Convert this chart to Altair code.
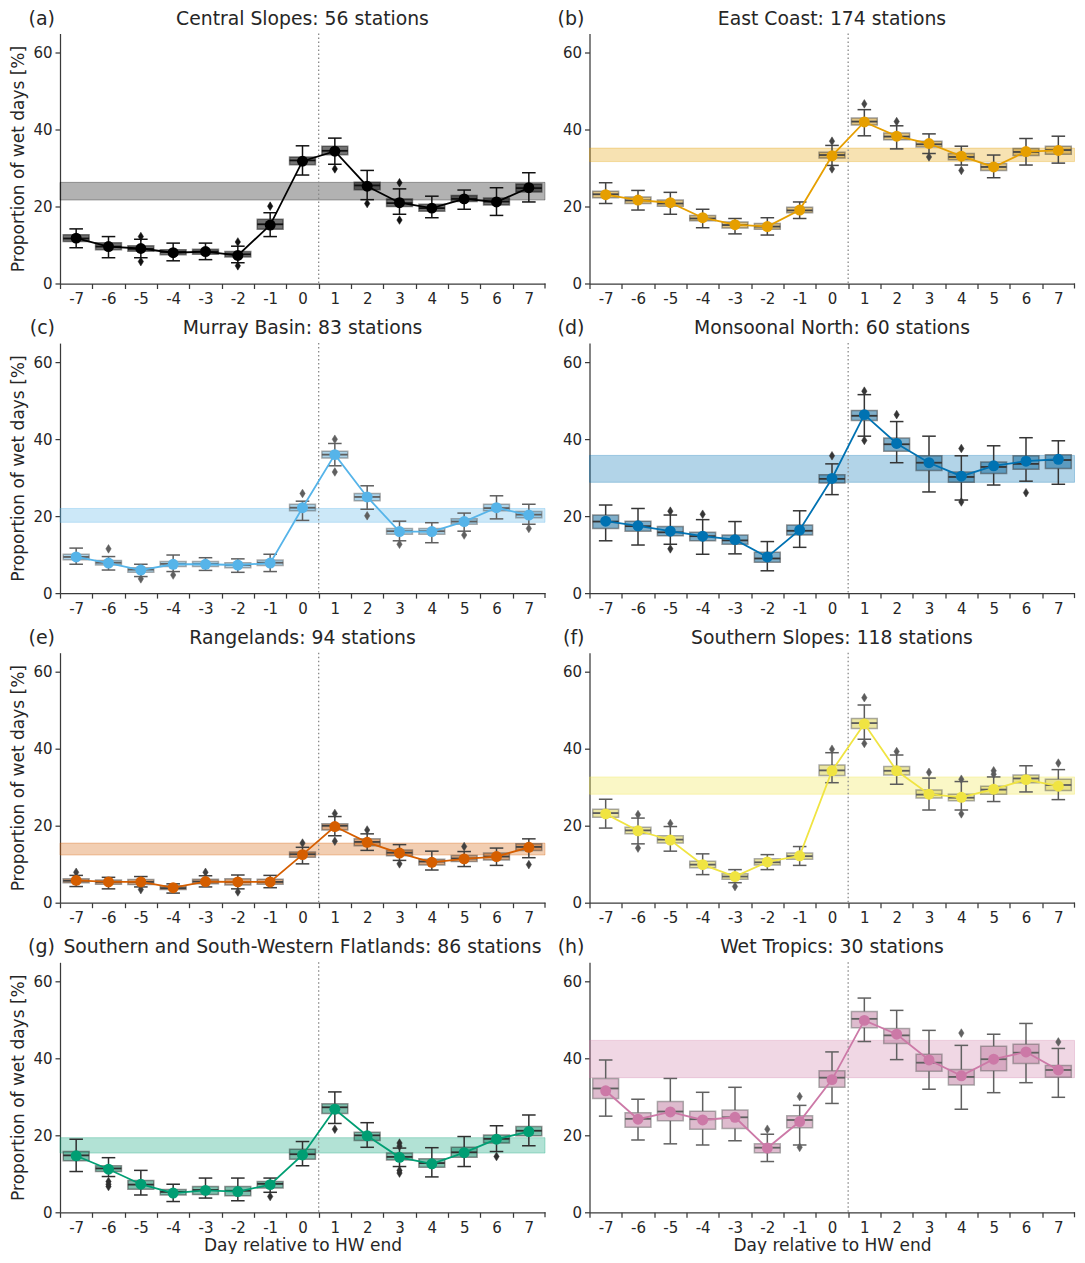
import altair as alt
import pandas as pd

DAYS = list(range(-7, 8))

TITLES = [
    "Central Slopes: 56 stations",
    "East Coast: 174 stations",
    "Murray Basin: 83 stations",
    "Monsoonal North: 60 stations",
    "Rangelands: 94 stations",
    "Southern Slopes: 118 stations",
    "Southern and South-Western Flatlands: 86 stations",
    "Wet Tropics: 30 stations",
]
LETTERS = ["(a)", "(b)", "(c)", "(d)", "(e)", "(f)", "(g)", "(h)"]
COLORS = ["#000000", "#E69F00", "#56B4E9", "#0072B2", "#D55E00", "#F0E442", "#009E73", "#CC79A7"]
BOX_FILLS = ["#000000", "#C9941D", "#68AFD7", "#166C9C", "#BA611B", "#DAD158", "#148A6A", "#C284A6"]
GRAYS = ["#111111", "#454545", "#5f5f5f", "#353535", "#404040", "#5c5c5c", "#2f2f2f", "#616161"]

# (a) Central Slopes
CS_MEAN = [11.8, 9.6, 9.1, 8.0, 8.3, 7.3, 15.2, 31.8, 34.4, 25.3, 21.0, 19.6, 22.0, 21.2, 24.9]
CS_MED = [11.7, 9.6, 9.0, 8.2, 8.3, 7.6, 15.4, 32.0, 34.5, 25.5, 20.9, 19.6, 22.0, 21.3, 24.8]
CS_Q1 = [10.9, 8.8, 8.4, 7.5, 7.6, 6.9, 14.1, 30.9, 33.5, 24.4, 20.0, 18.8, 21.3, 20.4, 23.8]
CS_Q3 = [12.7, 10.6, 9.8, 8.8, 8.9, 8.3, 16.7, 32.9, 35.7, 26.3, 22.0, 20.6, 22.9, 22.2, 25.9]
CS_LO = [9.3, 6.7, 6.7, 5.9, 6.2, 5.4, 12.2, 28.2, 31.0, 21.8, 18.0, 17.1, 19.3, 17.7, 21.2]
CS_HI = [14.2, 12.2, 11.5, 10.5, 10.5, 9.7, 18.4, 35.8, 37.8, 29.4, 24.6, 22.7, 24.3, 24.9, 28.8]
CS_OUT_DAY = [-5, -5, -2, -2, -1, 1, 2, 3, 3]
CS_OUT_VAL = [12.2, 5.7, 10.8, 4.6, 20.1, 29.8, 20.8, 26.2, 16.5]
CS_BAND = [21.7, 26.3]

# (b) East Coast
EC_MEAN = [23.1, 21.7, 21.0, 17.1, 15.3, 14.8, 19.1, 33.2, 42.0, 38.3, 36.4, 33.1, 30.3, 34.3, 34.6]
EC_MED = [23.2, 21.6, 20.8, 16.9, 15.2, 14.8, 19.0, 33.4, 42.1, 38.2, 36.2, 32.9, 30.3, 34.2, 34.7]
EC_Q1 = [22.3, 20.8, 20.1, 16.3, 14.4, 14.1, 18.4, 32.6, 41.2, 37.4, 35.5, 32.2, 29.4, 33.3, 33.6]
EC_Q3 = [24.0, 22.5, 21.7, 17.7, 16.0, 15.6, 19.8, 34.1, 43.0, 39.1, 37.0, 33.8, 31.2, 35.1, 35.7]
EC_LO = [20.8, 19.1, 18.0, 14.5, 12.9, 12.6, 16.9, 30.7, 38.4, 35.0, 33.8, 30.8, 27.5, 30.8, 31.3]
EC_HI = [26.2, 24.2, 23.7, 19.3, 16.9, 17.1, 21.2, 35.9, 45.2, 41.0, 38.9, 35.7, 33.4, 37.7, 38.3]
EC_OUT_DAY = [0, 0, 1, 2, 3, 4]
EC_OUT_VAL = [37.0, 29.8, 46.7, 42.1, 32.9, 29.4]
EC_BAND = [31.7, 35.2]

# (c) Murray Basin
MB_MEAN = [9.4, 7.8, 6.0, 7.5, 7.5, 7.3, 7.8, 22.2, 36.0, 25.0, 16.0, 16.0, 18.6, 22.2, 20.3]
MB_MED = [9.4, 7.9, 6.1, 7.6, 7.6, 7.3, 7.9, 22.2, 36.0, 25.0, 16.1, 16.1, 18.6, 22.1, 20.4]
MB_Q1 = [8.7, 7.3, 5.4, 6.9, 6.9, 6.6, 7.2, 21.4, 35.1, 24.0, 15.3, 15.3, 17.9, 21.4, 19.6]
MB_Q3 = [10.1, 8.5, 6.6, 8.2, 8.2, 7.9, 8.6, 23.1, 36.9, 25.9, 16.8, 16.8, 19.3, 23.1, 21.2]
MB_LO = [7.5, 6.0, 4.3, 5.6, 5.9, 5.4, 5.6, 18.9, 33.1, 21.8, 13.6, 13.1, 16.1, 19.3, 17.9]
MB_HI = [11.7, 9.5, 7.5, 9.9, 9.2, 8.9, 10.1, 23.9, 38.9, 27.9, 18.7, 18.3, 20.8, 25.3, 23.1]
MB_OUT_DAY = [-6, -5, -4, 0, 1, 1, 2, 3, 5, 7]
MB_OUT_VAL = [11.5, 3.7, 4.7, 25.9, 40.0, 31.5, 20.1, 12.7, 15.1, 16.8]
MB_BAND = [18.4, 22.0]

# (d) Monsoonal North
MN_MEAN = [18.7, 17.5, 16.1, 14.8, 13.9, 9.4, 16.4, 29.8, 46.4, 38.9, 33.9, 30.4, 33.1, 34.3, 34.8]
MN_MED = [18.6, 17.4, 15.8, 14.8, 13.7, 9.0, 16.2, 29.7, 46.1, 38.7, 33.9, 30.2, 32.8, 33.6, 34.6]
MN_Q1 = [16.8, 16.1, 14.9, 13.6, 12.7, 8.0, 15.1, 28.6, 44.9, 36.9, 31.9, 28.8, 31.1, 32.2, 32.4]
MN_Q3 = [20.3, 18.7, 17.3, 15.8, 15.1, 10.6, 17.7, 30.8, 47.5, 40.3, 35.7, 31.5, 34.1, 35.7, 36.0]
MN_LO = [13.6, 12.5, 12.7, 10.1, 10.2, 5.8, 11.9, 25.6, 40.8, 33.9, 26.3, 24.2, 28.1, 29.1, 28.3]
MN_HI = [22.9, 22.0, 20.3, 19.1, 18.6, 13.4, 21.4, 33.6, 51.6, 44.6, 40.8, 35.7, 38.3, 40.4, 39.6]
MN_OUT_DAY = [-5, -5, -4, 0, 1, 1, 2, 4, 4, 6]
MN_OUT_VAL = [21.3, 11.5, 20.5, 35.7, 52.5, 39.7, 46.4, 37.6, 23.7, 26.1]
MN_BAND = [28.8, 35.8]

# (e) Rangelands
RL_MEAN = [5.8, 5.4, 5.4, 3.9, 5.5, 5.4, 5.4, 12.5, 19.8, 15.7, 12.9, 10.5, 11.4, 12.0, 14.4]
RL_MED = [5.7, 5.4, 5.4, 3.8, 5.5, 5.4, 5.4, 12.6, 20.0, 15.8, 13.0, 10.7, 11.5, 12.0, 14.5]
RL_Q1 = [5.2, 4.8, 4.7, 3.4, 4.9, 4.6, 4.8, 11.8, 18.9, 14.8, 12.2, 9.8, 10.7, 11.1, 13.6]
RL_Q3 = [6.2, 5.9, 6.0, 4.4, 6.1, 6.2, 6.1, 13.2, 20.5, 16.6, 13.7, 11.3, 12.3, 12.9, 15.3]
RL_LO = [4.2, 3.6, 4.1, 2.5, 4.1, 3.6, 3.9, 10.1, 17.4, 13.6, 11.0, 8.5, 9.4, 9.7, 11.7]
RL_HI = [7.1, 6.6, 6.8, 4.9, 7.0, 7.2, 7.1, 14.4, 22.4, 17.9, 15.1, 13.4, 13.3, 14.2, 16.6]
RL_OUT_DAY = [-7, -5, -3, -2, 0, 1, 1, 2, 3, 5, 7]
RL_OUT_VAL = [7.9, 3.4, 7.9, 2.8, 15.5, 23.2, 16.0, 18.9, 10.1, 14.6, 9.9]
RL_BAND = [12.4, 15.5]

# (f) Southern Slopes
SS_MEAN = [23.1, 18.7, 16.3, 9.9, 6.8, 10.6, 12.2, 34.3, 46.5, 34.3, 28.2, 27.4, 29.5, 32.0, 30.3]
SS_MED = [23.3, 18.8, 16.4, 9.9, 6.8, 10.5, 12.1, 34.4, 46.7, 34.3, 28.1, 27.3, 29.4, 32.3, 30.6]
SS_Q1 = [22.2, 17.9, 15.5, 9.1, 6.1, 9.8, 11.3, 33.1, 45.3, 33.2, 27.2, 26.5, 28.2, 31.2, 29.2]
SS_Q3 = [24.3, 19.6, 17.4, 10.8, 7.5, 11.4, 12.9, 35.8, 47.9, 35.4, 29.3, 28.2, 30.3, 33.2, 32.1]
SS_LO = [19.4, 15.3, 13.4, 7.3, 5.2, 8.6, 9.7, 31.2, 42.5, 30.8, 24.1, 24.1, 26.3, 28.8, 26.8]
SS_HI = [26.9, 22.0, 19.8, 12.7, 8.6, 12.5, 14.6, 39.0, 51.4, 38.4, 32.4, 31.5, 32.7, 35.6, 34.6]
SS_OUT_DAY = [-6, -6, -5, -3, 0, 1, 1, 2, 3, 4, 4, 5, 5, 7]
SS_OUT_VAL = [22.9, 14.2, 20.6, 4.2, 39.9, 53.3, 41.4, 39.3, 33.9, 32.1, 23.1, 34.3, 33.4, 36.3]
SS_BAND = [28.2, 32.7]

# (g) Southern and South-Western Flatlands
SF_MEAN = [14.7, 11.2, 7.3, 5.0, 5.7, 5.4, 7.2, 14.9, 26.8, 19.9, 14.3, 12.6, 15.5, 19.0, 21.0]
SF_MED = [14.8, 11.4, 7.2, 5.3, 5.8, 5.6, 7.4, 15.1, 27.3, 20.0, 14.4, 12.8, 15.6, 19.1, 21.2]
SF_Q1 = [13.4, 10.6, 6.0, 4.5, 4.6, 4.3, 6.3, 13.8, 25.7, 18.7, 13.6, 11.7, 14.3, 18.0, 19.9]
SF_Q3 = [15.8, 12.1, 8.3, 5.9, 6.7, 6.7, 8.0, 16.4, 28.2, 20.8, 15.4, 13.9, 16.9, 20.1, 22.3]
SF_LO = [10.6, 9.3, 4.5, 2.8, 3.7, 3.0, 5.2, 12.1, 23.1, 16.9, 11.9, 9.2, 11.9, 15.8, 17.3]
SF_HI = [19.0, 14.2, 10.9, 7.3, 8.9, 8.9, 8.9, 18.4, 31.3, 23.3, 16.7, 16.8, 19.7, 22.5, 25.3]
SF_OUT_DAY = [-6, -6, -6, -1, 1, 3, 3, 3, 3, 6]
SF_OUT_VAL = [8.0, 7.3, 6.7, 4.1, 21.6, 18.0, 17.2, 10.2, 10.9, 14.5]
SF_BAND = [15.4, 19.4]

# (h) Wet Tropics
WT_MEAN = [31.6, 24.2, 26.1, 24.0, 24.7, 16.7, 23.6, 34.5, 49.9, 46.3, 39.6, 35.5, 39.8, 41.7, 37.0]
WT_MED = [32.2, 24.3, 26.2, 24.2, 24.7, 16.8, 24.0, 35.0, 50.3, 46.0, 38.9, 35.2, 39.8, 41.5, 37.0]
WT_Q1 = [29.6, 22.1, 23.8, 21.6, 21.8, 15.5, 22.0, 32.5, 48.0, 43.9, 36.7, 33.1, 36.8, 38.7, 35.1]
WT_Q3 = [34.8, 25.9, 28.8, 26.3, 26.6, 17.8, 25.1, 36.8, 52.2, 47.8, 41.1, 37.1, 43.2, 43.7, 38.2]
WT_LO = [25.0, 18.8, 17.8, 17.5, 18.6, 13.2, 17.5, 28.3, 44.4, 39.7, 32.0, 26.8, 31.1, 33.7, 29.9]
WT_HI = [39.6, 29.4, 34.8, 31.2, 32.5, 20.3, 27.8, 41.7, 55.7, 52.5, 47.3, 43.4, 46.3, 49.1, 42.6]
WT_OUT_DAY = [-2, -1, -1, 4, 7]
WT_OUT_VAL = [21.6, 30.1, 16.9, 46.6, 44.3]
WT_BAND = [35.0, 44.7]

REGION_DATA = [
    (CS_MEAN, CS_MED, CS_Q1, CS_Q3, CS_LO, CS_HI, CS_OUT_DAY, CS_OUT_VAL, CS_BAND),
    (EC_MEAN, EC_MED, EC_Q1, EC_Q3, EC_LO, EC_HI, EC_OUT_DAY, EC_OUT_VAL, EC_BAND),
    (MB_MEAN, MB_MED, MB_Q1, MB_Q3, MB_LO, MB_HI, MB_OUT_DAY, MB_OUT_VAL, MB_BAND),
    (MN_MEAN, MN_MED, MN_Q1, MN_Q3, MN_LO, MN_HI, MN_OUT_DAY, MN_OUT_VAL, MN_BAND),
    (RL_MEAN, RL_MED, RL_Q1, RL_Q3, RL_LO, RL_HI, RL_OUT_DAY, RL_OUT_VAL, RL_BAND),
    (SS_MEAN, SS_MED, SS_Q1, SS_Q3, SS_LO, SS_HI, SS_OUT_DAY, SS_OUT_VAL, SS_BAND),
    (SF_MEAN, SF_MED, SF_Q1, SF_Q3, SF_LO, SF_HI, SF_OUT_DAY, SF_OUT_VAL, SF_BAND),
    (WT_MEAN, WT_MED, WT_Q1, WT_Q3, WT_LO, WT_HI, WT_OUT_DAY, WT_OUT_VAL, WT_BAND),
]

Y_TITLE = "Proportion of wet days [%]"
X_TITLE = "Day relative to HW end"
Y_TICKS = [0, 20, 40, 60]
X_DOMAIN = [-7.5, 7.5]
Y_DOMAIN = [0, 65]

FONT = "DejaVu Sans"
TEXT = "#262626"
AXIS_C = "#3a3a3a"
W, H = 485, 250
DIAMOND = "M0,-1L0.62,0L0,1L-0.62,0Z"


def make_panel(i, left, bottom):
    mean, med, q1, q3, lo, hi, od, ov, band = REGION_DATA[i]
    color, fillc, gray = COLORS[i], BOX_FILLS[i], GRAYS[i]
    df = pd.DataFrame({"day": DAYS, "mean": mean, "med": med, "q1": q1,
                       "q3": q3, "lo": lo, "hi": hi})
    xs = alt.Scale(domain=X_DOMAIN, nice=False, zero=False)
    ys = alt.Scale(domain=Y_DOMAIN, nice=False)
    # ticks sit on category boundaries, labels are shifted to the category centres
    tick_pos = [d - 0.5 for d in DAYS]
    xaxis = alt.Axis(values=tick_pos,
                     labelExpr="'' + (datum.value + 0.5)",
                     labelOffset=W / 30.0, labelFlush=False, labelOverlap=False,
                     grid=False, tickSize=5, labelPadding=3, titlePadding=2,
                     title=X_TITLE if bottom else None)
    yaxis = alt.Axis(values=Y_TICKS, grid=False, tickSize=5, labelPadding=3,
                     titlePadding=5, title=Y_TITLE if left else None)

    def X(f):
        return alt.X(f, type="quantitative", scale=xs, axis=xaxis)

    def Y(f):
        return alt.Y(f, type="quantitative", scale=ys, axis=yaxis)

    band_df = pd.DataFrame({"lo": [band[0]], "hi": [band[1]],
                            "xa": [X_DOMAIN[0]], "xb": [X_DOMAIN[1]]})
    band_l = alt.Chart(band_df).mark_rect(
        fill=color, fillOpacity=0.3, stroke=color, strokeOpacity=0.3, strokeWidth=1.0
    ).encode(x=X("xa"), x2="xb", y=Y("lo"), y2="hi")

    vline = alt.Chart(pd.DataFrame({"x": [0.5]})).mark_rule(
        color="#8a8a8a", strokeDash=[1.5, 2.5], strokeWidth=1.3
    ).encode(x=X("x"))

    # closing tick at the right end of the x axis
    end_tick = alt.Chart(pd.DataFrame({"x": [X_DOMAIN[1]]})).mark_rule(
        color=AXIS_C, strokeWidth=1.25
    ).encode(x=X("x"), y=alt.value(H), y2=alt.value(H + 5))

    base = alt.Chart(df).transform_calculate(
        bl="datum.day - 0.4", br="datum.day + 0.4",
        cl="datum.day - 0.21", cr="datum.day + 0.21")

    w_lo = base.mark_rule(color=gray, strokeWidth=1.5).encode(x=X("day"), y=Y("lo"), y2="q1")
    w_hi = base.mark_rule(color=gray, strokeWidth=1.5).encode(x=X("day"), y=Y("q3"), y2="hi")
    c_lo = base.mark_rule(color=gray, strokeWidth=1.5).encode(x=X("cl"), x2="cr", y=Y("lo"))
    c_hi = base.mark_rule(color=gray, strokeWidth=1.5).encode(x=X("cl"), x2="cr", y=Y("hi"))
    box = base.mark_rect(fill=fillc, fillOpacity=0.55, stroke=gray, strokeOpacity=0.5,
                         strokeWidth=1.5).encode(x=X("bl"), x2="br", y=Y("q1"), y2="q3")
    med_l = base.mark_rule(color=gray, strokeWidth=1.8).encode(x=X("bl"), x2="br", y=Y("med"))

    out_df = pd.DataFrame({"day": od, "val": ov})
    outl = alt.Chart(out_df).mark_point(
        shape=DIAMOND, filled=True, fill=gray, stroke=gray, strokeWidth=0.5,
        size=75, opacity=1
    ).encode(x=X("day"), y=Y("val"))

    line = alt.Chart(df).mark_line(color=color, strokeWidth=1.8).encode(x=X("day"), y=Y("mean"))
    pts = alt.Chart(df).mark_circle(color=color, size=120, opacity=1).encode(x=X("day"), y=Y("mean"))

    lab = alt.Chart(pd.DataFrame({"t": [LETTERS[i]]})).mark_text(
        align="right", baseline="alphabetic", fontSize=19, font=FONT, color=TEXT
    ).encode(text="t:N", x=alt.value(-5), y=alt.value(-9))
    ttl = alt.Chart(pd.DataFrame({"t": [TITLES[i]]})).mark_text(
        align="center", baseline="alphabetic", fontSize=18.8, font=FONT, color=TEXT
    ).encode(text="t:N", x=alt.value(W / 2.0), y=alt.value(-9))

    return alt.layer(band_l, vline, end_tick, w_lo, w_hi, box, med_l, c_lo, c_hi, outl,
                     line, pts, lab, ttl).properties(width=W, height=H)


panels = [make_panel(i, i % 2 == 0, i >= 6) for i in range(8)]

chart = alt.concat(*panels, columns=2, bounds="flush",
                   spacing={"row": 59.6, "column": 44.5}).properties(
    padding={"left": 1, "top": 1.5, "right": 0, "bottom": 0}
).configure_view(strokeWidth=0).configure_axis(
    domainColor=AXIS_C, tickColor=AXIS_C, domainWidth=1.25, tickWidth=1.25,
    labelColor=TEXT, labelFont=FONT, labelFontSize=15,
    titleColor=TEXT, titleFont=FONT, titleFontSize=17, titleFontWeight="normal"
)

chart.save("out.html", embed_options={"renderer": "svg", "actions": False})
